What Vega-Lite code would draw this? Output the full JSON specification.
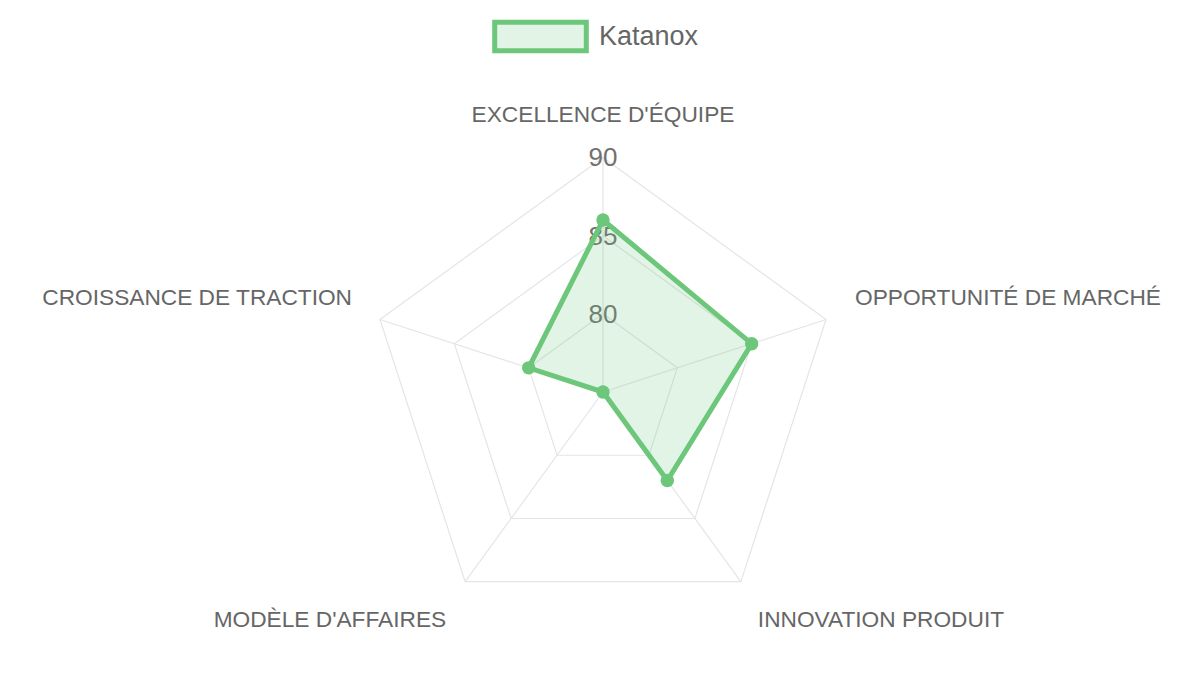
{
  "$schema": "https://vega.github.io/schema/vega-lite/v6.json",
  "width": 1200,
  "height": 675,
  "autosize": "none",
  "padding": 0,
  "background": "white",
  "config": {
    "view": {"stroke": null},
    "font": "Liberation Sans",
    "text": {"font": "Liberation Sans", "color": "#666666"}
  },
  "datasets": {
    "scores": [
      {"idx": 0, "axis": "EXCELLENCE D'ÉQUIPE", "score": 86},
      {"idx": 1, "axis": "OPPORTUNITÉ DE MARCHÉ", "score": 85},
      {"idx": 2, "axis": "INNOVATION PRODUIT", "score": 82},
      {"idx": 3, "axis": "MODÈLE D'AFFAIRES", "score": 75},
      {"idx": 4, "axis": "CROISSANCE DE TRACTION", "score": 80}
    ],
    "rings": [
      {"level": 80, "idx": 0}, {"level": 80, "idx": 1}, {"level": 80, "idx": 2}, {"level": 80, "idx": 3}, {"level": 80, "idx": 4},
      {"level": 85, "idx": 0}, {"level": 85, "idx": 1}, {"level": 85, "idx": 2}, {"level": 85, "idx": 3}, {"level": 85, "idx": 4},
      {"level": 90, "idx": 0}, {"level": 90, "idx": 1}, {"level": 90, "idx": 2}, {"level": 90, "idx": 3}, {"level": 90, "idx": 4}
    ]
  },
  "encoding": {
    "x": {"field": "px", "type": "quantitative", "axis": null,
          "scale": {"domain": [-2.5714, 2.5458], "nice": false, "zero": false}},
    "y": {"field": "py", "type": "quantitative", "axis": null,
          "scale": {"domain": [-1.2068, 1.6716], "nice": false, "zero": false}}
  },
  "layer": [
    {
      "data": {"name": "rings"},
      "transform": [
        {"calculate": "(datum.level - 75) / 15", "as": "r"},
        {"calculate": "datum.r * sin(datum.idx * 2 * PI / 5)", "as": "px"},
        {"calculate": "datum.r * cos(datum.idx * 2 * PI / 5)", "as": "py"}
      ],
      "mark": {"type": "line", "interpolate": "linear-closed", "stroke": "#e5e5e5", "strokeWidth": 1.2},
      "encoding": {
        "detail": {"field": "level", "type": "nominal"},
        "order": {"field": "idx", "type": "quantitative"}
      }
    },
    {
      "data": {"name": "rings"},
      "transform": [
        {"filter": "datum.level == 90"},
        {"calculate": "sin(datum.idx * 2 * PI / 5)", "as": "px"},
        {"calculate": "cos(datum.idx * 2 * PI / 5)", "as": "py"}
      ],
      "mark": {"type": "rule", "stroke": "#e5e5e5", "strokeWidth": 1.2},
      "encoding": {
        "x2": {"datum": 0},
        "y2": {"datum": 0}
      }
    },
    {
      "data": {"name": "rings"},
      "transform": [
        {"filter": "datum.idx == 0"},
        {"calculate": "0", "as": "px"},
        {"calculate": "(datum.level - 75) / 15", "as": "py"}
      ],
      "mark": {"type": "text", "fontSize": 26, "align": "center", "baseline": "middle", "dy": 1, "color": "#707070"},
      "encoding": {"text": {"field": "level", "type": "quantitative"}}
    },
    {
      "data": {"name": "scores"},
      "transform": [
        {"filter": "datum.idx == 0"},
        {"calculate": "0", "as": "px"},
        {"calculate": "1", "as": "py"}
      ],
      "mark": {"type": "text", "fontSize": 22.7, "align": "center", "baseline": "middle", "dy": -42},
      "encoding": {"text": {"field": "axis"}}
    },
    {
      "data": {"name": "scores"},
      "transform": [
        {"filter": "datum.idx == 1"},
        {"calculate": "sin(datum.idx * 2 * PI / 5)", "as": "px"},
        {"calculate": "cos(datum.idx * 2 * PI / 5)", "as": "py"}
      ],
      "mark": {"type": "text", "fontSize": 22.7, "align": "left", "baseline": "middle", "dx": 29, "dy": -22},
      "encoding": {"text": {"field": "axis"}}
    },
    {
      "data": {"name": "scores"},
      "transform": [
        {"filter": "datum.idx == 2"},
        {"calculate": "sin(datum.idx * 2 * PI / 5)", "as": "px"},
        {"calculate": "cos(datum.idx * 2 * PI / 5)", "as": "py"}
      ],
      "mark": {"type": "text", "fontSize": 22.7, "align": "left", "baseline": "middle", "dx": 17, "dy": 38},
      "encoding": {"text": {"field": "axis"}}
    },
    {
      "data": {"name": "scores"},
      "transform": [
        {"filter": "datum.idx == 3"},
        {"calculate": "sin(datum.idx * 2 * PI / 5)", "as": "px"},
        {"calculate": "cos(datum.idx * 2 * PI / 5)", "as": "py"}
      ],
      "mark": {"type": "text", "fontSize": 22.7, "align": "right", "baseline": "middle", "dx": -19, "dy": 38},
      "encoding": {"text": {"field": "axis"}}
    },
    {
      "data": {"name": "scores"},
      "transform": [
        {"filter": "datum.idx == 4"},
        {"calculate": "sin(datum.idx * 2 * PI / 5)", "as": "px"},
        {"calculate": "cos(datum.idx * 2 * PI / 5)", "as": "py"}
      ],
      "mark": {"type": "text", "fontSize": 22.7, "align": "right", "baseline": "middle", "dx": -28, "dy": -22},
      "encoding": {"text": {"field": "axis"}}
    },
    {
      "data": {"name": "scores"},
      "transform": [
        {"calculate": "(datum.score - 75) / 15", "as": "r"},
        {"calculate": "datum.r * sin(datum.idx * 2 * PI / 5)", "as": "px"},
        {"calculate": "datum.r * cos(datum.idx * 2 * PI / 5)", "as": "py"}
      ],
      "mark": {"type": "line", "interpolate": "linear-closed", "fill": "rgba(108, 199, 123, 0.2)", "strokeWidth": 5, "strokeJoin": "miter"},
      "encoding": {
        "order": {"field": "idx", "type": "quantitative"},
        "stroke": {
          "datum": "Katanox",
          "type": "nominal",
          "scale": {"range": ["#6cc77b"]},
          "legend": {
            "orient": "none",
            "legendX": 492,
            "legendY": -12,
            "title": null,
            "padding": 0,
            "symbolType": "M-1,-0.313H1V0.313H-1Z",
            "symbolSize": 8390,
            "symbolStrokeWidth": 5,
            "symbolFillColor": "#e2f4e5",
            "labelFont": "Liberation Sans",
            "labelFontSize": 27,
            "labelColor": "#666666",
            "labelOffset": 10
          }
        }
      }
    },
    {
      "data": {"name": "scores"},
      "transform": [
        {"calculate": "(datum.score - 75) / 15", "as": "r"},
        {"calculate": "datum.r * sin(datum.idx * 2 * PI / 5)", "as": "px"},
        {"calculate": "datum.r * cos(datum.idx * 2 * PI / 5)", "as": "py"}
      ],
      "mark": {"type": "point", "filled": true, "opacity": 1, "color": "#6cc77b", "size": 180}
    }
  ]
}
